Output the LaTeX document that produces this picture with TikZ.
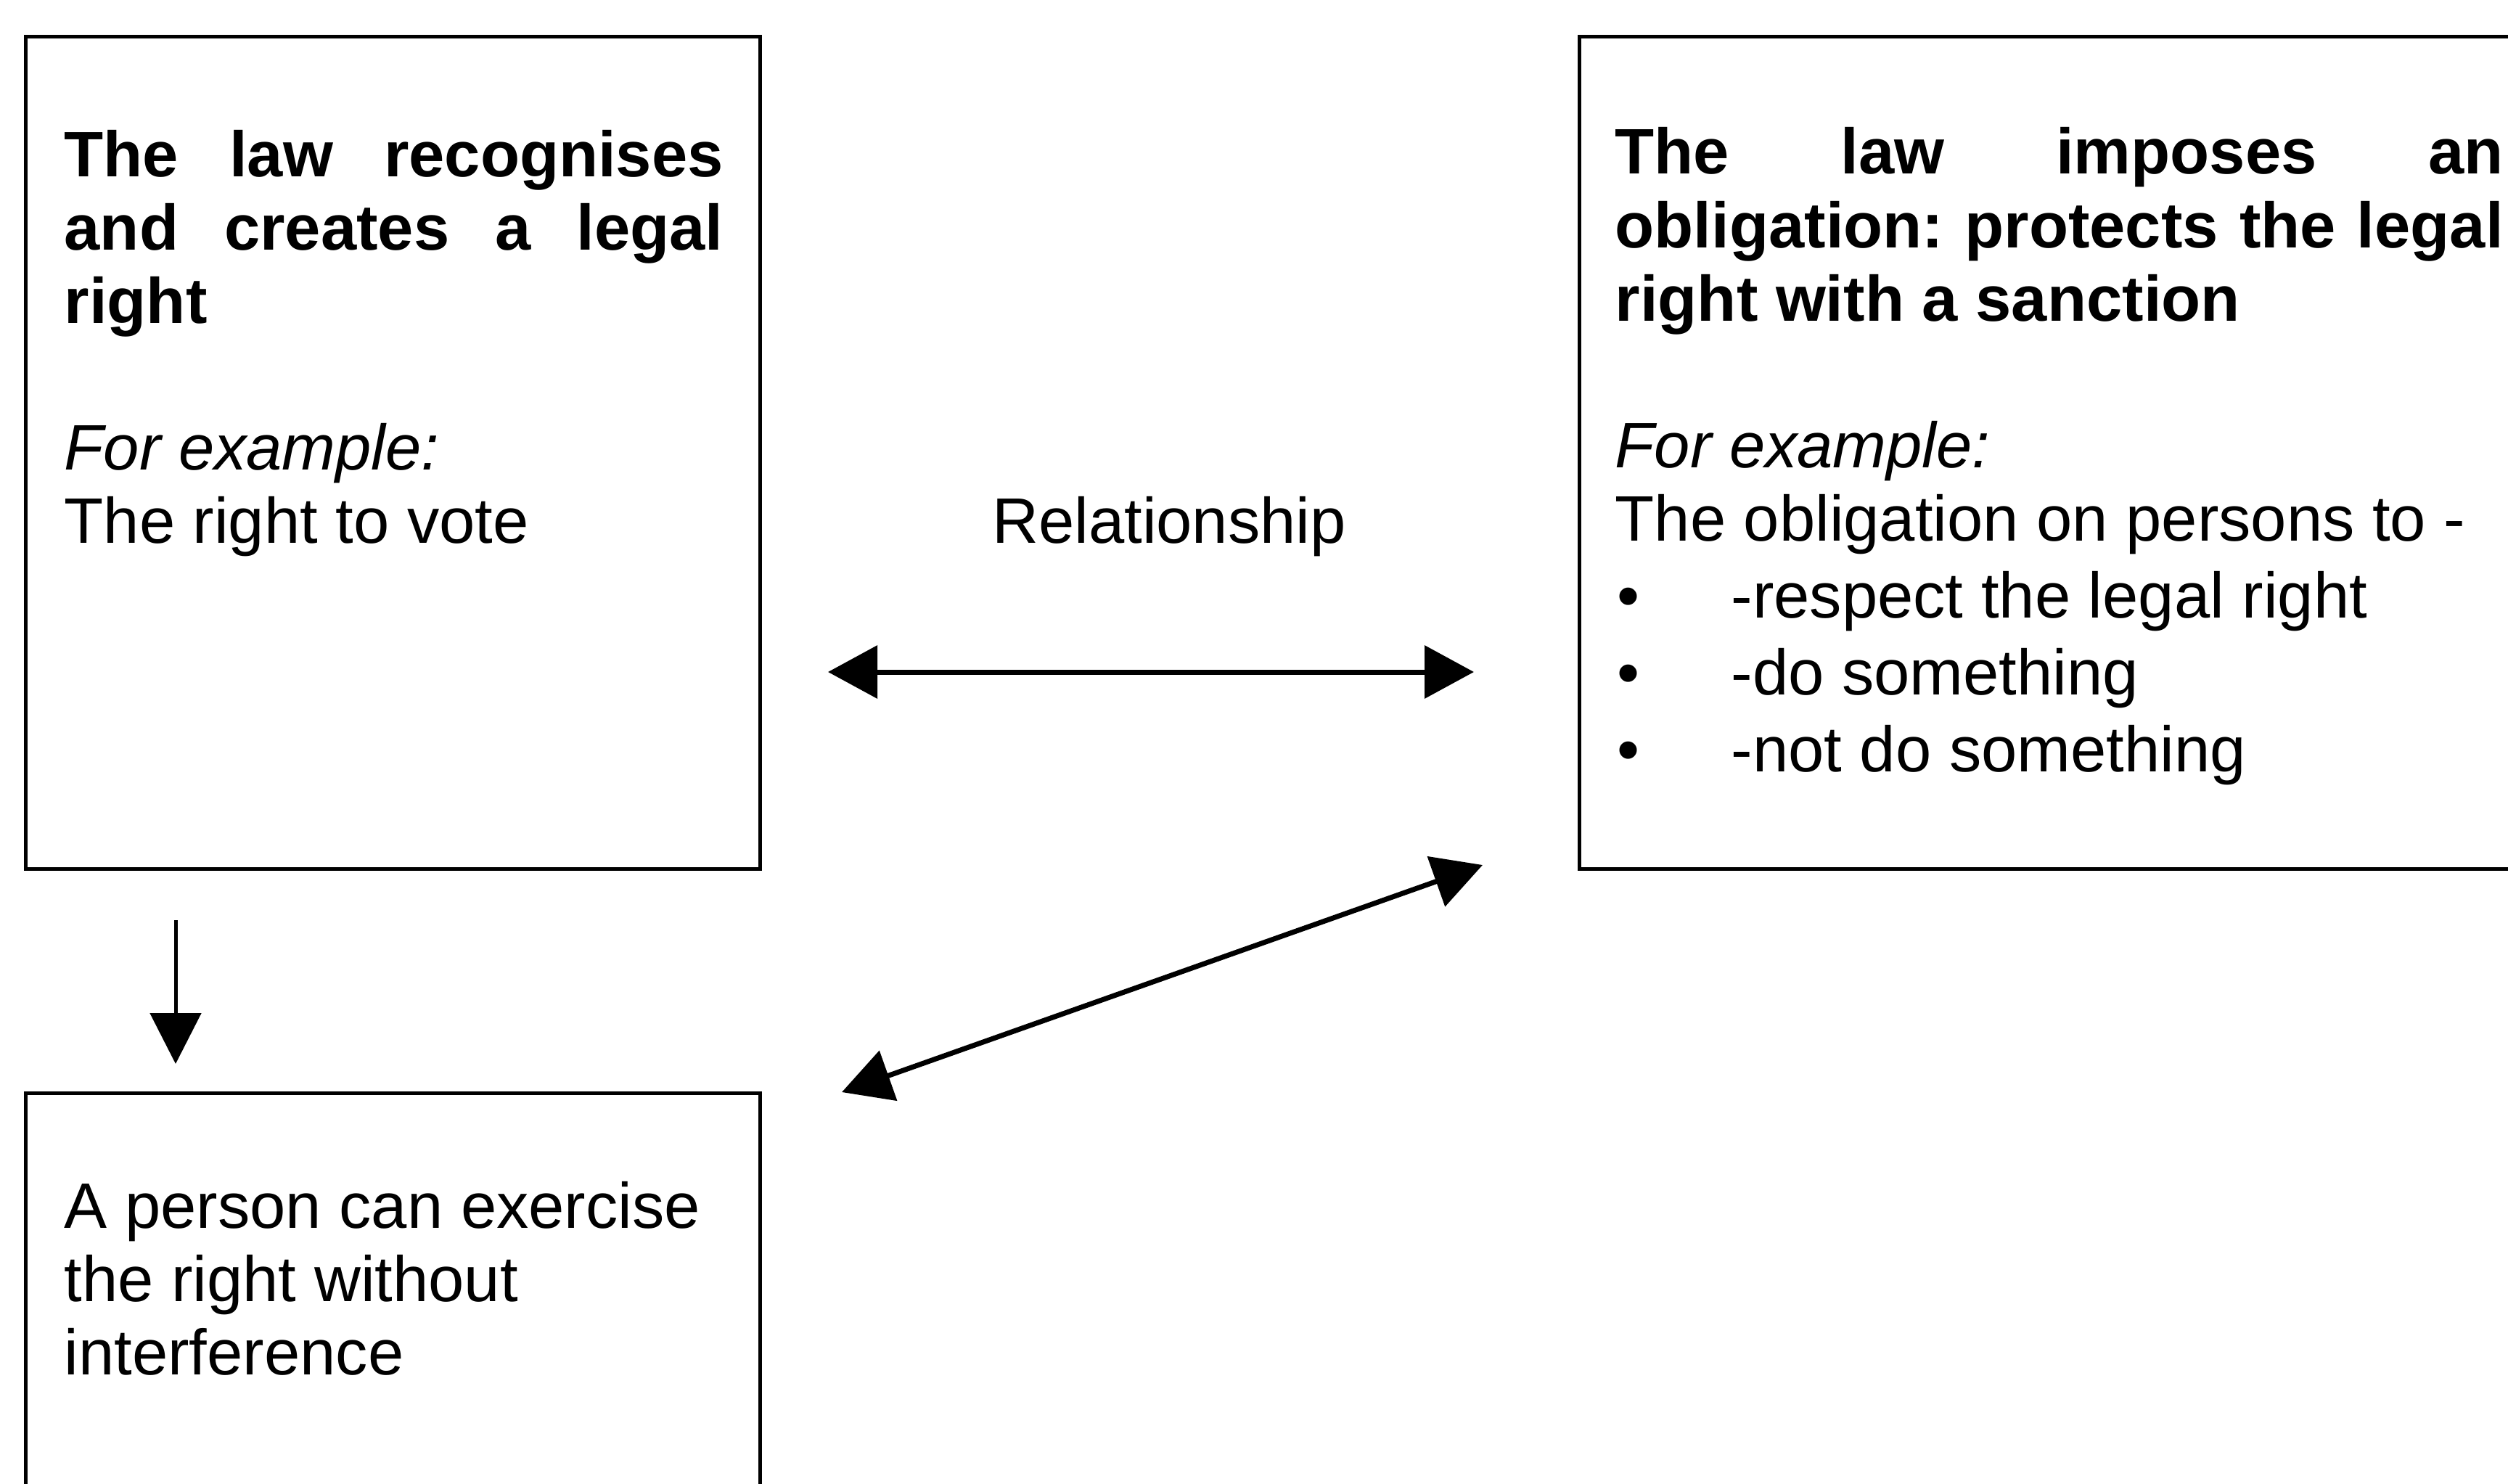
\documentclass[tikz,border=0pt]{standalone}
\usepackage{fontspec}
\setmainfont{Liberation Sans}
\usetikzlibrary{arrows.meta}
\newcommand\blt{\makebox[1.60cm][l]{\hspace*{0.03cm}\textbullet}}
\newcommand\jline[1]{\makebox[\linewidth][l]{#1}}
\begin{document}
\begin{tikzpicture}[x=1cm,y=1cm,
  box/.style={draw, line width=0.05cm, rectangle, inner sep=0pt, anchor=north west},
  txt/.style={inner sep=0pt, anchor=base west, align=left, font=\fontsize{25.2}{28.74}\selectfont},
  arr/.style={line width=0.07cm, {Triangle[length=0.68cm,width=0.72cm]}-{Triangle[length=0.68cm,width=0.72cm]}},
  varr/.style={line width=0.05cm, -{Triangle[length=0.70cm,width=0.70cm]}}
]
\clip (0,0) rectangle (34.56,-20.44);
\useasboundingbox (0,0) rectangle (34.56,-20.44);
% boxes
\node[box, minimum width=10.12cm, minimum height=11.47cm] (lt) at (0.33,-0.48) {};
\node[box, minimum width=13.5cm, minimum height=11.47cm] (rt) at (21.74,-0.48) {};
\node[box, minimum width=10.12cm, minimum height=7cm] (bt) at (0.33,-15.04) {};
% texts
\node[txt, text width=9.08cm] (ltx) at (0.88,-2.43) {\spaceskip=0pt\xspaceskip=0pt{\bfseries\jline{The\hfill law\hfill recognises}\\ \jline{and\hfill creates\hfill a\hfill legal}\\ right}\\[1.01cm] \textit{For example:}\\ The right to vote};
\node[txt, text width=12.24cm] (rtx) at (22.25,-2.40) {\spaceskip=0pt\xspaceskip=0pt{\bfseries\jline{The\hfill law\hfill imposes\hfill an}\\ \jline{obligation:\hfill protects\hfill the\hfill legal}\\ right with a sanction}\\[1.01cm] \textit{For example:}\\ The obligation on persons to -\\[0.05cm] \blt-respect the legal right\\[0.05cm] \blt-do something\\[0.05cm] \blt-not do something};
\node[txt, text width=9.08cm] (btx) at (0.88,-16.92) {\spaceskip=0pt\xspaceskip=0pt A person can exercise\\ the right without\\ interference};
\node[txt, anchor=base] (rel) at (16.11,-7.48) {Relationship};
% connectors
\coordinate (h1) at (11.41,-9.26);
\coordinate (h2) at (20.31,-9.26);
\draw[arr] (h1) -- (h2);
\coordinate (v1) at (2.42,-12.68);
\coordinate (v2) at (2.42,-14.66);
\draw[varr] (v1) -- (v2);
\coordinate (d1) at (11.60,-15.05);
\coordinate (d2) at (20.43,-11.92);
\draw[arr] (d1) -- (d2);
\end{tikzpicture}
\end{document}
